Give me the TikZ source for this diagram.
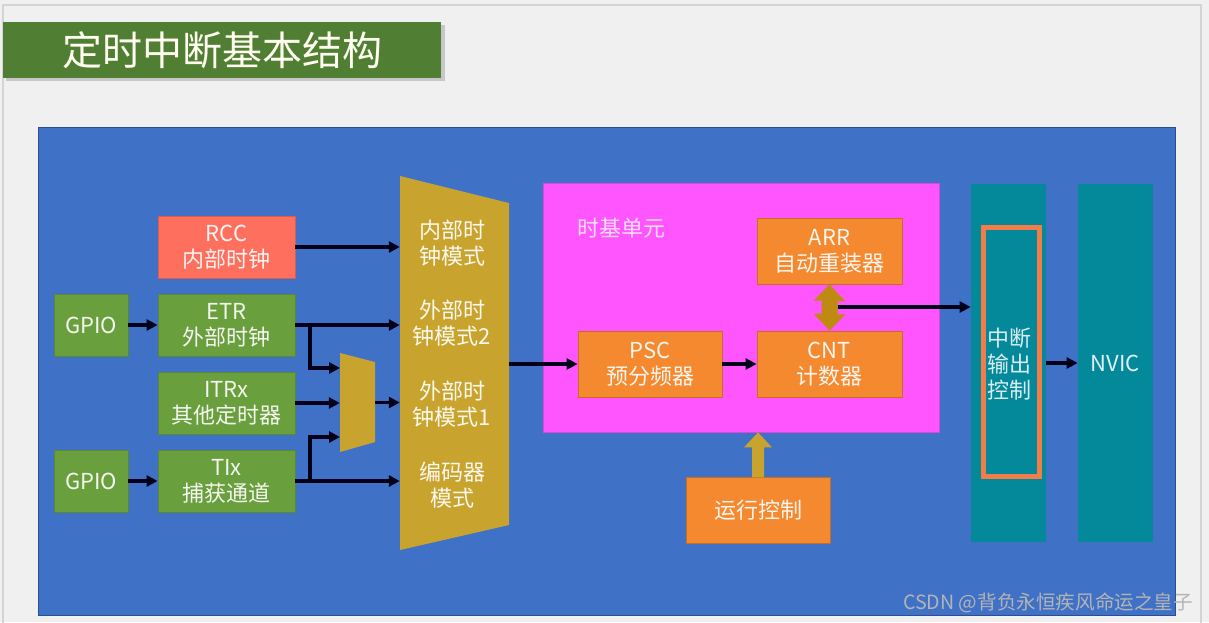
\documentclass[tikz,border=0pt]{standalone}
\usepackage{fontspec}
\setmainfont{Noto Sans CJK SC}
\usetikzlibrary{arrows.meta,calc}
\definecolor{pagebg}{HTML}{F0F0F0}
\definecolor{pageline}{HTML}{D4D4D4}
\definecolor{titlegreen}{HTML}{507E32}
\definecolor{mainblue}{HTML}{3F71C6}
\definecolor{boxgreen}{HTML}{6A9F3E}
\definecolor{boxsalmon}{HTML}{FF6F5E}
\definecolor{gold}{HTML}{C8A42E}
\definecolor{darkgold}{HTML}{BF8A12}
\definecolor{magentabox}{HTML}{FF55FF}
\definecolor{boxorange}{HTML}{F4892F}
\definecolor{tealbar}{HTML}{04899A}
\definecolor{outlineorange}{HTML}{F47C48}
\definecolor{wm}{HTML}{B4B4B4}
\tikzset{
  blockbox/.style={rectangle, inner sep=0pt, line width=0.8pt, align=center,
    font=\fontsize{22}{26}\selectfont},
  greenbox/.style={blockbox, fill=boxgreen, draw=boxgreen!85!black, text=white!92!boxgreen},
  salmonbox/.style={blockbox, fill=boxsalmon, draw=boxsalmon!85!black, text=white!92!boxsalmon},
  orangebox/.style={blockbox, fill=boxorange, draw=boxorange!80!black, text=white!92!boxorange},
  tealbox/.style={blockbox, fill=tealbar, draw=none, text=white!88!tealbar},
  ghost/.style={rectangle, inner sep=0pt, draw=none},
  arr/.style={line width=3.2pt, draw=black!90!blue, -{Triangle[length=11pt,width=11pt]}},
  lbl/.style={align=center, inner sep=0pt, font=\fontsize{22}{26}\selectfont}
}
\begin{document}
\begin{tikzpicture}[x=1pt,y=-1pt]
\useasboundingbox (0,0) rectangle (1209,622);
\fill[pagebg] (0,0) rectangle (1209,622);
\draw[pageline, line width=1.2pt] (3,640) -- (3,5) -- (1201,5) -- (1201,640);

% title
\fill[black!22] (6,25) rectangle (445,81);
\node[rectangle, fill=titlegreen, minimum width=438pt, minimum height=56pt, inner sep=0pt,
  text=white!94!yellow, font=\fontsize{40}{42}\selectfont] (title) at (222,50) {定时中断基本结构};

% main blue panel
\node[ghost, fill=mainblue, draw=mainblue!70!black, line width=1pt,
  minimum width=1137pt, minimum height=488pt] (panel) at (606.5,371) {};

% left blocks
\node[salmonbox, minimum width=137pt, minimum height=62pt] (rcc) at (226.5,247) {RCC\\内部时钟};
\node[greenbox, minimum width=74pt, minimum height=62pt] (gpioa) at (91,325) {GPIO};
\node[greenbox, minimum width=137pt, minimum height=62pt] (etr) at (226.5,325) {ETR\\外部时钟};
\node[greenbox, minimum width=137pt, minimum height=62pt] (itrx) at (226.5,403) {ITRx\\其他定时器};
\node[greenbox, minimum width=74pt, minimum height=62pt] (gpiob) at (91,481) {GPIO};
\node[greenbox, minimum width=137pt, minimum height=62pt] (tix) at (226.5,481) {TIx\\捕获通道};

% small mux
\fill[gold] (340,353) -- (375,362) -- (375,442) -- (340,452) -- cycle;
\node[ghost, minimum width=35pt, minimum height=99pt] (mux) at (357.5,402.5) {};

% mode selector
\fill[gold] (400,176) -- (509,203) -- (509,525) -- (400,550) -- cycle;
\node[ghost, minimum width=109pt, minimum height=374pt] (mode) at (454.5,363) {};
\node[lbl, text=white!92!gold] (m1) at (452,243) {内部时\\钟模式};
\node[lbl, text=white!92!gold] (m2) at (452,323) {外部时\\钟模式2};
\node[lbl, text=white!92!gold] (m3) at (452,404) {外部时\\钟模式1};
\node[lbl, text=white!92!gold] (m4) at (452,485) {编码器\\模式};

% time base unit
\node[ghost, fill=magentabox, draw=magentabox!85!black, line width=0.8pt,
  minimum width=396pt, minimum height=249pt] (tbu) at (741,307.5) {};
\node[lbl, text=white!80!magentabox, anchor=west] (tbulbl) at (577,228) {时基单元};
\node[orangebox, minimum width=145pt, minimum height=66pt] (arr) at (829.5,251) {ARR\\自动重装器};
\node[orangebox, minimum width=144pt, minimum height=66pt] (psc) at (650,364) {PSC\\预分频器};
\node[orangebox, minimum width=145pt, minimum height=66pt] (cnt) at (829.5,364) {CNT\\计数器};
\node[orangebox, minimum width=144pt, minimum height=66pt] (run) at (758,510) {运行控制};

% interrupt output and NVIC
\node[tealbox, minimum width=75pt, minimum height=358pt] (ioc) at (1008.5,363) {};
\node[ghost, draw=outlineorange, line width=5pt, minimum width=56pt, minimum height=249pt] (iocframe) at (1011,351.5) {};
\node[lbl, text=white!85!tealbar] (ioclbl) at (1009,364) {中断\\输出\\控制};
\node[tealbox, minimum width=75pt, minimum height=358pt] (nvic) at (1115.5,363) {NVIC};

% block arrows
\fill[darkgold] (arr.south) -- ++(16,17) -- ++(-8,0) -- ++(0,13) -- ++(8,0)
  -- (cnt.north) -- ++(-16,-17) -- ++(8,0) -- ++(0,-13) -- ++(-8,0) -- cycle;
\coordinate (dbl) at (838,307);
\fill[gold] (tbu.south -| run.north) -- ++(14,15) -- ++(-8,0) -- ++(0,30) -- ++(-12,0)
  -- ++(0,-30) -- ++(-8,0) -- cycle;

% connectors
\draw[arr] (rcc.east) -- (rcc.east -| mode.west);
\draw[arr] (gpioa.east) -- (etr.west);
\draw[arr] (gpiob.east) -- (tix.west);
\draw[arr] (etr.east) -- (etr.east -| mode.west);
\coordinate (ja) at (310,325);
\coordinate (ma) at (340,368);
\draw[arr] (ja) |- (ma);
\draw[arr] (itrx.east) -- (itrx.east -| mux.west);
\draw[arr] (mux.east) -- (mux.east -| mode.west);
\draw[arr] (tix.east) -- (tix.east -| mode.west);
\coordinate (jb) at (310,481);
\coordinate (mb) at (340,437);
\draw[arr] (jb) |- (mb);
\draw[arr] (mode.east |- psc.west) -- (psc.west);
\draw[arr] (psc.east) -- (cnt.west);
\draw[arr] (dbl) -- (dbl -| ioc.west);
\draw[arr] (ioc.east) -- (nvic.west);

% watermark
\node[anchor=west, inner sep=0pt, text=wm, font=\fontsize{19.6}{20}\selectfont] (wmark) at (903,603) {CSDN @背负永恒疾风命运之皇子};
\end{tikzpicture}
\end{document}
